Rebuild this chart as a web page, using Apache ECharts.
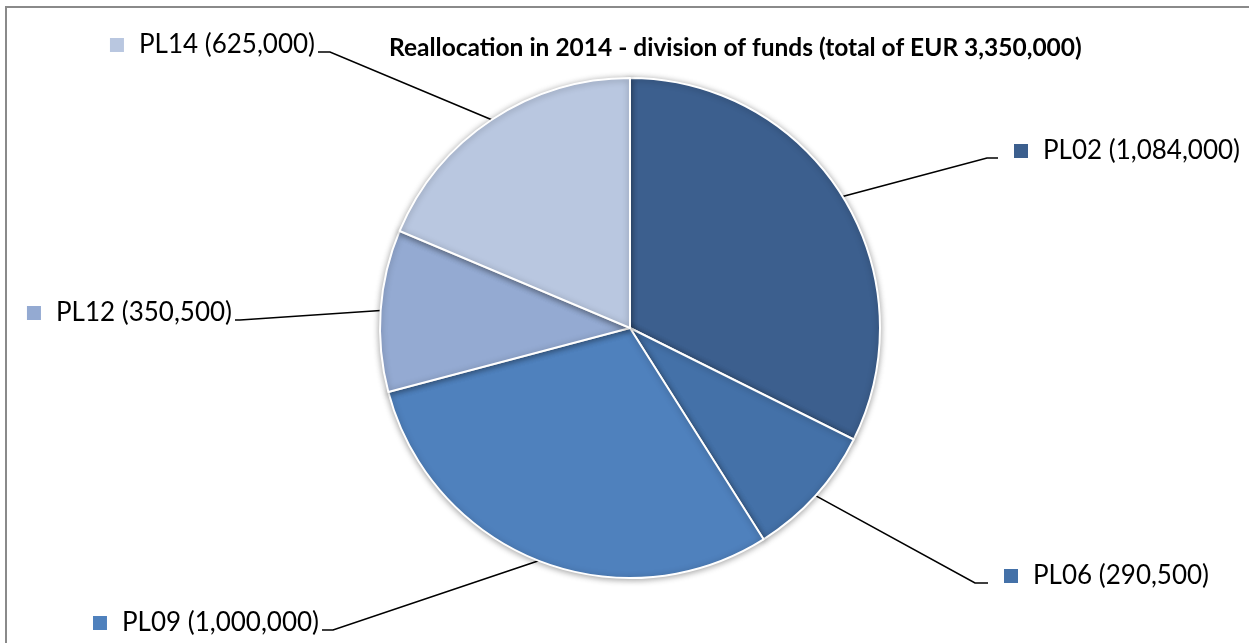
<!DOCTYPE html>
<html>
<head>
<meta charset="utf-8">
<title>Reallocation in 2014 - division of funds</title>
<script src="https://cdn.jsdelivr.net/npm/echarts@6/dist/echarts.min.js"></script>
<style>
  html, body { margin: 0; padding: 0; background: #ffffff; }
  #chart { width: 1249px; height: 643px; }
</style>
</head>
<body>
<div id="chart"></div>
<script>
// Programme codes and the funds reallocated to each (EUR)
const categories = ['PL02', 'PL06', 'PL09', 'PL12', 'PL14'];
const amounts = [1084000, 290500, 1000000, 350500, 625000];
const titleText = 'Reallocation in 2014 - division of funds (total of EUR 3,350,000)';

// Slice colours, one per programme
const sliceColors = ['#3C5F8E', '#4471A8', '#4F81BD', '#94AAD2', '#B9C7E0'];

// Where each callout ends: [line end x, line end y, elbow x, side]
const calloutSpots = [
  [998, 158, 987, 'right'],
  [988, 583, 975, 'right'],
  [322, 630, 333, 'left'],
  [235, 320, 240, 'left'],
  [318, 52, 330, 'left']
];

const fmt = v => v.toLocaleString('en-US');

const chart = echarts.init(document.getElementById('chart'), null, { renderer: 'canvas' });

const data = categories.map((c, i) => ({
  name: c,
  value: amounts[i],
  itemStyle: { color: sliceColors[i] },
  label: {
    rich: { m: { backgroundColor: sliceColors[i], width: 14, height: 14 } }
  }
}));

chart.setOption({
  animation: false,
  backgroundColor: '#ffffff',
  title: {
    text: titleText,
    left: 384,
    top: 31,
    textStyle: {
      fontFamily: 'Lato',
      fontWeight: 'bold',
      fontSize: 24.5,
      color: '#000000'
    }
  },
  graphic: [{
    type: 'rect',
    shape: { x: 6, y: 7, width: 1300, height: 700 },
    style: { fill: 'none', stroke: '#8a8a8a', lineWidth: 2 },
    silent: true
  }],
  series: [{
    type: 'pie',
    center: [630, 328],
    radius: [0, 250],
    startAngle: 90,
    clockwise: true,
    data: data,
    itemStyle: {
      borderColor: '#ffffff',
      borderWidth: 2,
      shadowBlur: 6,
      shadowColor: 'rgba(0,0,0,0.35)',
      shadowOffsetY: 1
    },
    label: {
      show: true,
      position: 'outside',
      formatter: p => '{m|}{t|' + p.name + ' (' + fmt(p.value) + ')}',
      rich: {
        m: { width: 14, height: 14 },
        t: {
          fontFamily: 'Lato',
          fontSize: 26,
          color: '#000000',
          padding: [0, 0, 0, 15]
        }
      }
    },
    labelLine: {
      show: true,
      length: 10,
      length2: 10,
      lineStyle: { color: '#000000', width: 1.6 }
    },
    labelLayout: function (params) {
      const s = calloutSpots[params.dataIndex];
      const edge = params.labelLinePoints[0];
      const w = params.labelRect.width;
      const x = s[3] === 'right' ? s[0] + 16 : s[0] - 3 - w;
      return {
        x: x,
        y: s[1] - 7,
        align: 'left',
        verticalAlign: 'middle',
        labelLinePoints: [edge, [s[2], s[1]], [s[0], s[1]]]
      };
    }
  }]
});
</script>
</body>
</html>
